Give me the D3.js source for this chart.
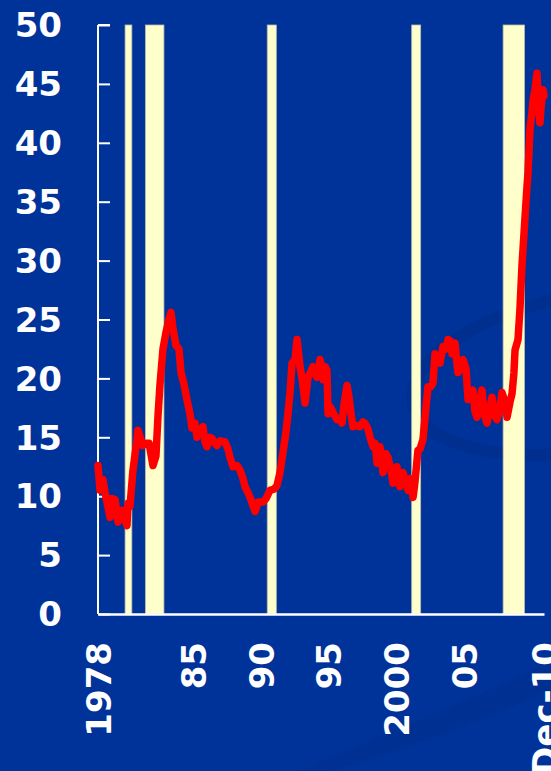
<!DOCTYPE html>
<html>
<head>
<meta charset="utf-8">
<script src="https://cdn.jsdelivr.net/npm/d3@7"></script>
<style>
  html, body { margin: 0; padding: 0; background: #003399; }
  svg { display: block; }
  text { font-family: "DejaVu Sans", Verdana, sans-serif; font-weight: bold; fill: #ffffff; }
</style>
</head>
<body>
<svg id="chart" width="551" height="771"></svg>
<script>
// Share of unemployed out of work 27 weeks or longer (%), by date (decimal year)
const dates = [
  1978.00, 1978.15, 1978.37, 1978.52, 1978.89, 1979.03, 1979.26, 1979.48, 1979.77, 1980.14,
  1980.22, 1980.36, 1980.58, 1980.88, 1980.95, 1981.32, 1981.55, 1981.77, 1982.06, 1982.28,
  1982.43, 1982.58, 1982.80, 1983.02, 1983.24, 1983.39, 1983.54, 1983.76, 1983.98, 1984.13,
  1984.35, 1984.57, 1984.79, 1984.94, 1985.16, 1985.31, 1985.53, 1985.75, 1985.90, 1986.05,
  1986.27, 1986.42, 1986.64, 1986.79, 1987.01, 1987.38, 1987.60, 1987.75, 1987.97, 1988.27,
  1988.49, 1988.71, 1988.86, 1989.08, 1989.23, 1989.45, 1989.60, 1989.82, 1990.19, 1990.41,
  1990.70, 1991.00, 1991.22, 1991.44, 1991.66, 1991.89, 1992.03, 1992.18, 1992.33, 1992.55,
  1992.70, 1992.92, 1993.07, 1993.29, 1993.51, 1993.73, 1993.88, 1994.03, 1994.17, 1994.40,
  1994.62, 1994.77, 1994.91, 1994.99, 1995.13, 1995.28, 1995.50, 1995.65, 1995.87, 1996.02,
  1996.17, 1996.39, 1996.54, 1996.69, 1996.83, 1997.13, 1997.35, 1997.57, 1997.72, 1997.94,
  1998.09, 1998.31, 1998.46, 1998.61, 1998.83, 1999.05, 1999.27, 1999.42, 1999.64, 1999.79,
  2000.08, 2000.30, 2000.53, 2000.67, 2000.90, 2001.04, 2001.27, 2001.41, 2001.63, 2001.78,
  2002.00, 2002.22, 2002.37, 2002.59, 2002.74, 2002.89, 2003.11, 2003.26, 2003.48, 2003.70,
  2003.85, 2004.00, 2004.15, 2004.37, 2004.51, 2004.59, 2004.81, 2004.96, 2005.18, 2005.33,
  2005.55, 2005.70, 2005.84, 2005.99, 2006.21, 2006.36, 2006.51, 2006.73, 2006.95, 2007.10,
  2007.32, 2007.47, 2007.69, 2007.84, 2008.06, 2008.21, 2008.43, 2008.58, 2008.72, 2008.80,
  2009.02, 2009.17, 2009.31, 2009.54, 2009.68, 2009.76, 2009.91, 2010.05, 2010.13, 2010.27,
  2010.42, 2010.50, 2010.64, 2010.72, 2010.87, 2010.94
];
const share = [
  12.6, 10.5, 11.4, 10.3, 8.2, 9.8, 9.7, 7.8, 8.8, 7.5,
  9.4, 9.1, 12.2, 14.8, 15.6, 14.3, 14.5, 14.5, 12.6, 13.4,
  16.8, 19.5, 22.5, 23.9, 25.0, 25.6, 24.2, 22.8, 22.5, 20.5,
  19.5, 18.2, 17.0, 15.8, 16.2, 15.0, 15.6, 15.9, 14.6, 14.2,
  15.0, 14.9, 14.5, 14.3, 14.7, 14.6, 14.0, 13.3, 12.5, 12.6,
  12.2, 11.5, 10.8, 10.3, 9.9, 9.2, 8.7, 9.5, 9.5, 9.8,
  10.5, 10.6, 10.9, 12.0, 13.7, 15.5, 17.0, 18.8, 21.3, 21.6,
  23.3, 21.0, 20.0, 17.9, 20.1, 20.6, 21.0, 20.4, 20.1, 21.6,
  19.9, 21.0, 20.7, 17.0, 17.6, 17.3, 16.8, 16.5, 16.6, 16.2,
  17.8, 19.4, 18.4, 17.0, 15.9, 16.0, 15.9, 16.3, 16.2, 15.7,
  15.0, 14.2, 14.5, 12.8, 14.2, 12.0, 13.6, 13.3, 12.2, 11.1,
  12.5, 10.8, 12.0, 11.3, 10.5, 11.5, 9.9, 11.2, 13.9, 14.0,
  14.8, 17.5, 19.3, 19.3, 19.6, 22.1, 21.5, 21.3, 22.7, 22.5,
  23.3, 23.2, 22.1, 23.0, 21.2, 20.5, 21.0, 21.6, 20.8, 18.2,
  18.5, 19.0, 17.2, 16.7, 18.2, 19.0, 17.0, 16.2, 17.5, 18.4,
  16.8, 16.5, 17.5, 18.8, 18.0, 16.7, 18.0, 18.7, 20.5, 22.4,
  23.3, 26.0, 29.5, 33.7, 36.2, 37.5, 41.3, 42.5, 43.6, 44.5,
  45.9, 44.0, 41.7, 43.0, 44.5, 44.0
];

// Recession periods (start, end) as decimal years
const recessionStart = [1980.00, 1981.50, 1990.50, 2001.17, 2007.92];
const recessionEnd   = [1980.50, 1982.87, 1991.17, 2001.83, 2009.50];

// Axis labels
const yTicks = [0, 5, 10, 15, 20, 25, 30, 35, 40, 45, 50];
const xTickYears  = [1978, 1985, 1990, 1995, 2000, 2005, 2010.92];
const xTickLabels = ["1978", "85", "90", "95", "2000", "05", "Dec-10"];

const svg = d3.select("#chart");
const W = 551, H = 771;

const x = d3.scaleLinear().domain([1978, 2010.94]).range([98, 544]);
const y = d3.scaleLinear().domain([0, 50]).range([614, 25]);

// Background with faint swooshes
svg.append("rect").attr("width", W).attr("height", H).attr("fill", "#003399");
const deco = svg.append("g").attr("fill", "none");
deco.append("ellipse")
  .attr("cx", 590).attr("cy", 372).attr("rx", 180).attr("ry", 78)
  .attr("transform", "rotate(-10 590 372)")
  .attr("stroke", "#002b85").attr("stroke-opacity", 0.45).attr("stroke-width", 12);
deco.append("path")
  .attr("d", "M300,771 C380,735 470,700 551,662 L551,690 C470,725 390,755 330,771 Z")
  .attr("fill", "#002e8c").attr("fill-opacity", 0.5);

// Recession shading
const rec = recessionStart.map((s, i) => ({ s, e: recessionEnd[i] }));
svg.append("g").selectAll("rect").data(rec).join("rect")
  .attr("x", d => x(d.s))
  .attr("y", y(50))
  .attr("width", d => x(d.e) - x(d.s))
  .attr("height", y(0) - y(50))
  .attr("fill", "#ffffcc")
  .attr("stroke", "#b8bcaa")
  .attr("stroke-width", 0.8);

// Y axis: ticks pointing into the plot
const yAxis = d3.axisRight(y).tickValues(yTicks).tickSize(12).tickFormat("");
const yg = svg.append("g").attr("transform", `translate(${x(1978)},0)`).call(yAxis);
yg.select(".domain").attr("stroke", "#ffffff").attr("stroke-width", 2).attr("d", `M0,${y(50)}H12M0,${y(50)}V${y(0)}`);
yg.selectAll(".tick line").attr("stroke", "#ffffff").attr("stroke-width", 2);

svg.append("g").selectAll("text").data(yTicks).join("text")
  .attr("x", 62)
  .attr("y", d => y(d))
  .attr("dy", "0.36em")
  .attr("text-anchor", "end")
  .attr("font-size", 34)
  .text(d => d);

// X axis line
const xAxis = d3.axisBottom(x).tickValues([]).tickSizeOuter(0);
const xg = svg.append("g").attr("transform", `translate(0,${y(0)})`).call(xAxis);
xg.select(".domain").attr("stroke", "#ffffff").attr("stroke-width", 2.5);

svg.append("g").selectAll("text").data(xTickYears).join("text")
  .attr("transform", (d) => `translate(${x(d) + 1},642) rotate(-90)`)
  .attr("dy", "0.36em")
  .attr("text-anchor", "end")
  .attr("font-size", 34)
  .text((d, i) => xTickLabels[i]);

// Series line
const pts = dates.map((d, i) => [d, share[i]]);
const line = d3.line().x(d => x(d[0])).y(d => y(d[1]));
svg.append("path")
  .datum(pts)
  .attr("d", line)
  .attr("fill", "none")
  .attr("stroke", "#ff0000")
  .attr("stroke-width", 7.5)
  .attr("stroke-linejoin", "round")
  .attr("stroke-linecap", "round");
</script>
</body>
</html>
